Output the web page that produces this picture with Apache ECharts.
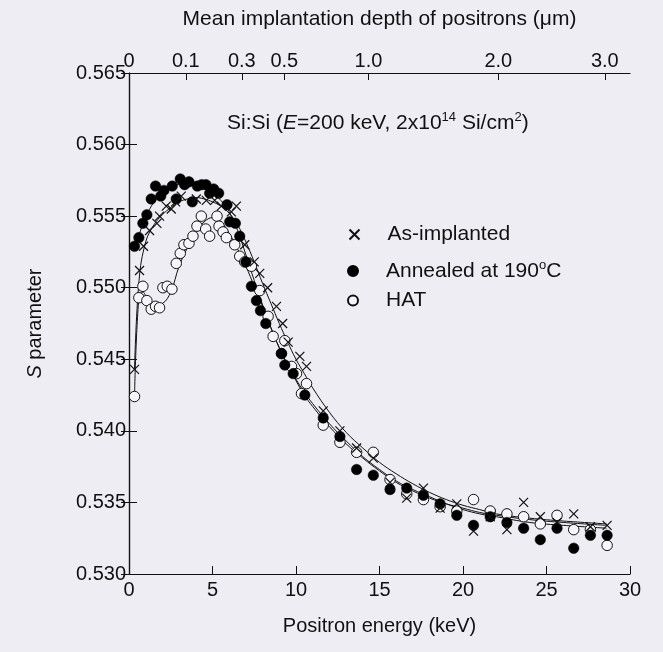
<!DOCTYPE html>
<html>
<head>
<meta charset="utf-8">
<script src="https://cdn.jsdelivr.net/npm/echarts@6/dist/echarts.min.js"></script>
<style>
html,body{margin:0;padding:0;background:#eeedf3;}
#c{width:663px;height:652px;}
</style>
</head>
<body>
<div id="c"></div>
<script>
// ---- data ----
const asE = [0.33,0.63,0.87,1.23,1.67,1.83,2.23,2.53,2.79,3.13,4.03,4.63,5.13,5.53,6.13,6.43,6.93,7.5,7.83,8.3,8.83,9.2,9.53,10.23,10.63,11.63,12.63,13.63,14.63,15.63,16.63,17.63,18.63,19.63,20.63,21.63,22.63,23.63,24.63,25.63,26.63,27.63,28.63];
const asS = [0.5443,0.5512,0.5529,0.5540,0.5545,0.5550,0.5557,0.5555,0.5560,0.5564,0.5562,0.5561,0.5561,0.5557,0.5553,0.5557,0.5530,0.5518,0.5510,0.5500,0.5487,0.5475,0.5462,0.5452,0.5445,0.5414,0.5400,0.5388,0.5381,0.5364,0.5353,0.5360,0.5346,0.5349,0.5330,0.5340,0.5331,0.5350,0.5340,0.5336,0.5342,0.5333,0.5334];

const anE = [0.33,0.59,0.83,1.07,1.33,1.59,1.9,2.09,2.59,2.83,3.07,3.33,3.59,3.79,4.09,4.35,4.61,4.83,5.07,5.37,5.87,6.03,6.37,6.63,7.0,7.33,7.63,7.87,8.19,9.13,9.33,9.83,10.53,11.63,12.63,13.63,14.63,15.63,16.63,17.63,18.63,19.63,20.63,21.63,22.63,23.63,24.63,25.63,26.63,27.63,28.63];
const anS = [0.5529,0.5535,0.5545,0.5551,0.5562,0.5571,0.5564,0.5568,0.5571,0.5562,0.5576,0.5572,0.5574,0.5560,0.5571,0.5572,0.5572,0.5566,0.5569,0.5566,0.5558,0.5546,0.5545,0.5536,0.5518,0.5501,0.5491,0.5484,0.5475,0.5454,0.5446,0.5440,0.5425,0.5409,0.5396,0.5373,0.5369,0.5359,0.5360,0.5355,0.5349,0.5341,0.5334,0.5340,0.5336,0.5332,0.5324,0.5332,0.5318,0.5327,0.5327];

const hatE = [0.33,0.59,0.83,1.07,1.33,1.59,1.83,2.03,2.29,2.57,2.83,3.07,3.29,3.59,3.83,4.07,4.33,4.59,4.83,5.27,5.39,5.63,5.83,6.33,6.63,6.93,7.33,7.83,8.33,8.63,9.13,9.33,9.73,10.03,10.33,10.63,11.63,12.63,13.63,14.63,15.63,16.63,17.63,18.63,19.63,20.63,21.63,22.63,23.63,24.63,25.63,26.63,27.63,28.63];
const hatS = [0.5424,0.5493,0.5501,0.5491,0.5485,0.5487,0.5486,0.5500,0.5501,0.5499,0.5517,0.5524,0.5530,0.5531,0.5536,0.5543,0.5550,0.5541,0.5536,0.5550,0.5543,0.5539,0.5535,0.5530,0.5522,0.5518,0.5515,0.5498,0.5480,0.5466,0.5454,0.5463,0.5445,0.5440,0.5426,0.5433,0.5404,0.5392,0.5385,0.5385,0.5366,0.5356,0.5352,0.5347,0.5344,0.5352,0.5344,0.5342,0.5340,0.5335,0.5341,0.5331,0.5331,0.5320];

// fitted curves
const asFitE = [0.33,0.6,1,1.5,2,2.5,3,3.5,4,4.5,5,5.5,6,6.5,7,7.5,8,8.5,9,9.5,10,10.5,11,12,13,14,15,16,17,18,19,20,21,22,24,26,28.6];
const asFitS = [0.5443,0.5505,0.5532,0.5544,0.5551,0.5556,0.5560,0.5562,0.5563,0.5562,0.5560,0.5557,0.5552,0.5544,0.5532,0.5518,0.5503,0.5489,0.5475,0.5462,0.5450,0.5440,0.5430,0.5413,0.5399,0.5388,0.5378,0.5370,0.5363,0.5357,0.5352,0.5348,0.5345,0.5342,0.5339,0.5337,0.5335];
const anFitE = [0.33,0.6,1,1.5,2,2.5,3,3.5,4,4.5,5,5.5,6,6.5,7,7.5,8,8.5,9,9.5,10,10.5,11,12,13,14,15,16,17,18,19,20,21,22,24,26,28.6];
const anFitS = [0.5527,0.5537,0.5549,0.5560,0.5566,0.5570,0.5572,0.5572,0.5571,0.5569,0.5566,0.5561,0.5553,0.5540,0.5523,0.5505,0.5488,0.5472,0.5458,0.5446,0.5436,0.5427,0.5419,0.5405,0.5393,0.5382,0.5373,0.5365,0.5359,0.5354,0.5349,0.5345,0.5342,0.5340,0.5336,0.5334,0.5332];
const hatFitE = [0.33,0.59,0.83,1.1,1.5,2.0,2.5,3.0,3.5,4.0,4.5,5.0,5.5,6,6.5,7,7.5,8,8.5,9,9.5,10,10.5,11,12,13,14,15,16,17,18,19,20,21,22,24,26,28.6];
const hatFitS = [0.5424,0.5493,0.5497,0.5492,0.5488,0.5489,0.5497,0.5515,0.5528,0.5539,0.5546,0.5549,0.5546,0.5538,0.5527,0.5515,0.5501,0.5487,0.5472,0.5458,0.5446,0.5435,0.5425,0.5417,0.5403,0.5391,0.5381,0.5372,0.5364,0.5358,0.5353,0.5349,0.5346,0.5343,0.5341,0.5338,0.5336,0.5334];

// top axis: mean implantation depth (um) tick labels
const topLabels = ['0','0.1','0.3','0.5','1.0','2.0','3.0'];
const topDepth = [0,0.1,0.3,0.5,1.0,2.0,3.0];
// energy (keV) corresponding to each depth: E = 14.34 * z^0.625
const topE = topDepth.map(z => 14.34 * Math.pow(z, 0.625));

const seriesNames = ['As-implanted', 'Annealed at 190oC', 'HAT'];

// ---- chart ----
const BG = '#eeedf3';
const INK = '#111';
const FONT = '"Liberation Sans", Arial, Helvetica, sans-serif';
const zip = (a, b) => a.map((v, i) => [v, b[i]]);
const crossPath = 'path://M0,0L10,10M10,0L0,10';

const chart = echarts.init(document.getElementById('c'), null, {renderer: 'canvas'});

function legendAt(name, top, fmt) {
  return {
    data: [name],
    left: 342, top: top,
    orient: 'vertical',
    itemWidth: 10, itemHeight: 10,
    selectedMode: false,
    textStyle: {
      fontFamily: FONT, fontSize: 21, color: INK, padding: [0,0,0,23],
      rich: {
        t: {fontFamily: FONT, fontSize: 21, color: INK, lineHeight: 24},
        sup: {fontFamily: FONT, fontSize: 13, color: INK, verticalAlign: 'top', lineHeight: 24}
      }
    },
    formatter: fmt
  };
}

const option = {
  backgroundColor: BG,
  animation: false,
  textStyle: {fontFamily: FONT},
  grid: {left: 129, right: 33, top: 73, bottom: 78, containLabel: false},
  title: {
    left: 222, top: 106,
    text: '{a|Si:Si (}{i|E}{a|=200 keV, 2x10}{s|14}{a| Si/cm}{s|2}{a|)}',
    textStyle: {
      fontWeight: 'normal',
      rich: {
        a: {fontFamily: FONT, fontSize: 21, fontWeight: 'normal', color: INK, lineHeight: 24},
        i: {fontFamily: FONT, fontSize: 21, fontWeight: 'normal', color: INK, fontStyle: 'italic', lineHeight: 24},
        s: {fontFamily: FONT, fontSize: 13, fontWeight: 'normal', color: INK, verticalAlign: 'top', lineHeight: 24}
      }
    }
  },
  legend: [
    legendAt(seriesNames[0], 219, () => '{t|As-implanted}'),
    legendAt(seriesNames[1], 254, () => '{t|Annealed at 190}{sup|o}{t|C}'),
    legendAt(seriesNames[2], 285, () => '{t|HAT}')
  ],
  xAxis: [
    {
      type: 'value', position: 'bottom', min: 0, max: 30, interval: 5,
      name: 'Positron energy (keV)', nameLocation: 'middle', nameGap: 42,
      nameTextStyle: {fontFamily: FONT, fontSize: 20, color: INK},
      axisLine: {show: true, lineStyle: {color: INK, width: 1.2}},
      axisTick: {show: true, inside: true, length: 8, lineStyle: {color: INK}},
      axisLabel: {fontFamily: FONT, fontSize: 20, color: INK, margin: 6},
      splitLine: {show: false}
    },
    {
      type: 'value', position: 'top', min: 0, max: 30,
      name: 'Mean implantation depth of positrons (\u03bcm)', nameLocation: 'middle', nameGap: 43,
      nameTextStyle: {fontFamily: FONT, fontSize: 21, color: INK},
      axisLine: {show: true, lineStyle: {color: INK, width: 1.2}},
      axisTick: {show: true, inside: true, length: 7, customValues: topE, lineStyle: {color: INK}},
      axisLabel: {
        fontFamily: FONT, fontSize: 20, color: INK, margin: 2,
        customValues: topE,
        formatter: v => {
          for (let i = 0; i < topE.length; i++) if (Math.abs(topE[i] - v) < 1e-6) return topLabels[i];
          return '';
        }
      },
      splitLine: {show: false}
    }
  ],
  yAxis: [
    {
      type: 'value', position: 'left', min: 0.530, max: 0.565, interval: 0.005,
      name: '{i|S}{a| parameter}', nameLocation: 'middle', nameGap: 84,
      nameTextStyle: {
        rich: {
          a: {fontFamily: FONT, fontSize: 20, color: INK},
          i: {fontFamily: FONT, fontSize: 20, color: INK, fontStyle: 'italic'}
        }
      },
      axisLine: {show: true, lineStyle: {color: INK, width: 1.2}},
      axisTick: {show: true, inside: true, length: 8, lineStyle: {color: INK}},
      axisLabel: {fontFamily: FONT, fontSize: 20, color: INK, margin: 3, formatter: v => v.toFixed(3)},
      splitLine: {show: false}
    },
    {
      type: 'value', position: 'right', min: 0.530, max: 0.565, interval: 0.005,
      axisLine: {show: true, lineStyle: {color: INK, width: 1.2}},
      axisTick: {show: true, inside: true, length: 8, lineStyle: {color: INK}},
      axisLabel: {show: false},
      splitLine: {show: false}
    }
  ],
  series: [
    {type: 'line', data: zip(asFitE, asFitS), smooth: 0.4, showSymbol: false, symbol: 'none',
     lineStyle: {color: INK, width: 1}, silent: true, z: 1},
    {type: 'line', data: zip(anFitE, anFitS), smooth: 0.4, showSymbol: false, symbol: 'none',
     lineStyle: {color: INK, width: 1}, silent: true, z: 1},
    {type: 'line', data: zip(hatFitE, hatFitS), smooth: 0.4, showSymbol: false, symbol: 'none',
     lineStyle: {color: INK, width: 1}, silent: true, z: 1},
    {name: seriesNames[2], type: 'scatter', data: zip(hatE, hatS), symbol: 'circle', symbolSize: 10.5,
     itemStyle: {color: '#f6f5f9', borderColor: INK, borderWidth: 1, opacity: 1}, z: 3},
    {name: seriesNames[1], type: 'scatter', data: zip(anE, anS), symbol: 'circle', symbolSize: 10.5,
     itemStyle: {color: '#000', borderColor: '#000', borderWidth: 0.5, opacity: 1}, z: 4},
    {name: seriesNames[0], type: 'scatter', data: zip(asE, asS), symbol: crossPath, symbolSize: 9,
     itemStyle: {color: 'none', borderColor: INK, borderWidth: 1.2, opacity: 1}, z: 5}
  ]
};
chart.setOption(option);
</script>
</body>
</html>
